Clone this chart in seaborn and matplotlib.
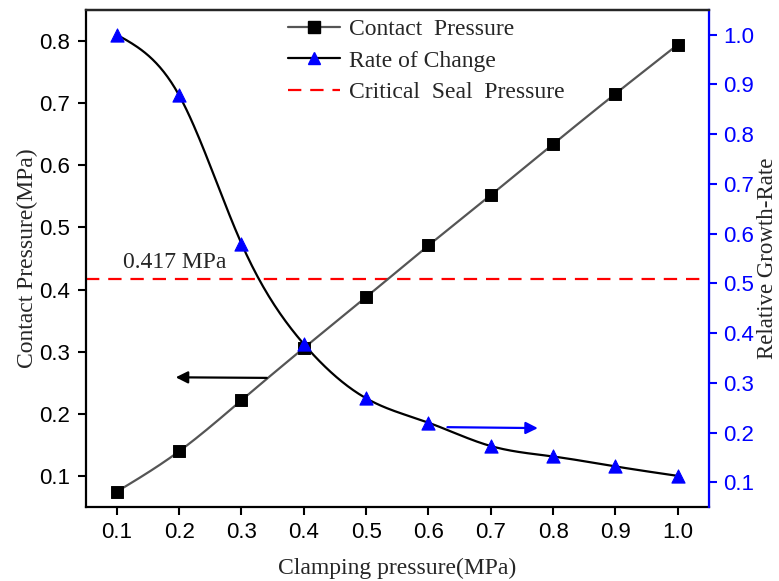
import numpy as np
import pandas as pd
import seaborn as sns
import matplotlib
matplotlib.use("Agg")
import matplotlib.pyplot as plt
from matplotlib.lines import Line2D

# values
clamping = [0.1, 0.2, 0.3, 0.4, 0.5, 0.6, 0.7, 0.8, 0.9, 1.0]
contact_pressure = [0.075, 0.140, 0.222, 0.306, 0.388, 0.471, 0.552, 0.634, 0.715, 0.794]
rate_of_change = [1.0, 0.878, 0.580, 0.378, 0.269, 0.220, 0.173, 0.152, 0.132, 0.113]
critical_seal = 0.417
xticks = [0.1, 0.2, 0.3, 0.4, 0.5, 0.6, 0.7, 0.8, 0.9, 1.0]
left_ticks = [0.1, 0.2, 0.3, 0.4, 0.5, 0.6, 0.7, 0.8]
right_ticks = [0.1, 0.2, 0.3, 0.4, 0.5, 0.6, 0.7, 0.8, 0.9, 1.0]


def spline(x, y, n=300):
    # natural cubic spline, only used to draw the smooth connecting line
    x = np.asarray(x, float)
    y = np.asarray(y, float)
    k = len(x)
    h = np.diff(x)
    A = np.zeros((k, k))
    b = np.zeros(k)
    A[0, 0] = A[-1, -1] = 1
    for i in range(1, k - 1):
        A[i, i - 1] = h[i - 1]
        A[i, i] = 2 * (h[i - 1] + h[i])
        A[i, i + 1] = h[i]
        b[i] = 6 * ((y[i + 1] - y[i]) / h[i] - (y[i] - y[i - 1]) / h[i - 1])
    M = np.linalg.solve(A, b)
    xs = np.linspace(x[0], x[-1], n)
    j = np.clip(np.searchsorted(x, xs) - 1, 0, k - 2)
    t1 = x[j + 1] - xs
    t0 = xs - x[j]
    ys = (M[j] * t1**3 + M[j + 1] * t0**3) / (6 * h[j]) \
        + (y[j] / h[j] - M[j] * h[j] / 6) * t1 \
        + (y[j + 1] / h[j] - M[j + 1] * h[j] / 6) * t0
    return xs, ys


sns.set_style("ticks")
plt.rcParams['font.family'] = ['Liberation Serif', 'DejaVu Serif']

df = pd.DataFrame({'clamping': clamping, 'contact': contact_pressure, 'rate': rate_of_change})

fig = plt.figure(figsize=(7.79, 5.81), dpi=100)
ax = fig.add_axes([0.110, 0.127, 0.800, 0.856])
ax2 = ax.twinx()

xs, ys = spline(clamping, contact_pressure)
sns.lineplot(x=xs, y=ys, ax=ax, color='#555555', lw=1.6, zorder=2)
sns.scatterplot(data=df, x='clamping', y='contact', ax=ax, marker='s', s=70,
                color='black', edgecolor='black', zorder=3)
ax.axhline(critical_seal, color='red', ls=(0, (6, 4)), lw=1.6, zorder=1)
ax.text(0.11, critical_seal + 0.010, '0.417 MPa', fontsize=17, ha='left', va='bottom')

xr, yr = spline(clamping, rate_of_change)
sns.lineplot(x=xr, y=yr, ax=ax2, color='black', lw=1.6, zorder=2)
sns.scatterplot(data=df, x='clamping', y='rate', ax=ax2, marker='^', s=90,
                color='blue', edgecolor='blue', zorder=3)

# direction arrows
ax.annotate('', xy=(0.19, 0.259), xytext=(0.345, 0.258),
            arrowprops=dict(arrowstyle='-|>', color='black', lw=1.6, mutation_scale=18))
ax2.annotate('', xy=(0.78, 0.209), xytext=(0.626, 0.211),
             arrowprops=dict(arrowstyle='-|>', color='blue', lw=1.6, mutation_scale=18))

ax.set_xlim(0.05, 1.05)
ax.set_ylim(0.05, 0.85)
ax2.set_ylim(0.05, 1.05)
ax.set_xticks(xticks)
ax.set_xticklabels(['%.1f' % v for v in xticks])
ax.set_yticks(left_ticks)
ax.set_yticklabels(['%.1f' % v for v in left_ticks])
ax2.set_yticks(right_ticks)
ax2.set_yticklabels(['%.1f' % v for v in right_ticks])

tickfont = dict(family='Liberation Sans', size=16)
for lab in ax.get_xticklabels() + ax.get_yticklabels():
    lab.set_fontproperties(tickfont)
for lab in ax2.get_yticklabels():
    lab.set_fontproperties(tickfont)
    lab.set_color('blue')

ax.tick_params(axis='both', direction='out', length=6, width=1.5, colors='black', pad=5)
ax2.tick_params(axis='y', direction='out', length=6, width=1.5, colors='blue', pad=4)

for side in ['left', 'top', 'bottom']:
    ax.spines[side].set_linewidth(1.6)
    ax.spines[side].set_color('black')
ax2.spines['right'].set_color('blue')
ax2.spines['right'].set_linewidth(1.6)
ax2.spines['top'].set_linewidth(1.6)
ax2.spines['left'].set_visible(False)
ax2.spines['bottom'].set_visible(False)

ax.set_xlabel('Clamping pressure(MPa)', fontsize=17, labelpad=10)
ax.set_ylabel('Contact Pressure(MPa)', fontsize=17, labelpad=1)
ax2.set_ylabel('Relative Growth-Rate', fontsize=16.5, labelpad=2, rotation=90)

handles = [
    Line2D([], [], color='#555555', lw=1.6, marker='s', markersize=8, markerfacecolor='black', markeredgecolor='black'),
    Line2D([], [], color='black', lw=1.6, marker='^', markersize=9, markerfacecolor='blue', markeredgecolor='blue'),
    Line2D([], [], color='red', lw=1.6, ls=(0, (6, 4))),
]
labels = ['Contact  Pressure', 'Rate of Change', 'Critical  Seal  Pressure']
ax2.legend(handles, labels, loc='upper left', bbox_to_anchor=(0.29, 1.025), frameon=False,
           fontsize=17, handlelength=2.2, handletextpad=0.4, labelspacing=0.42)

fig.savefig('out.png', dpi=100)
